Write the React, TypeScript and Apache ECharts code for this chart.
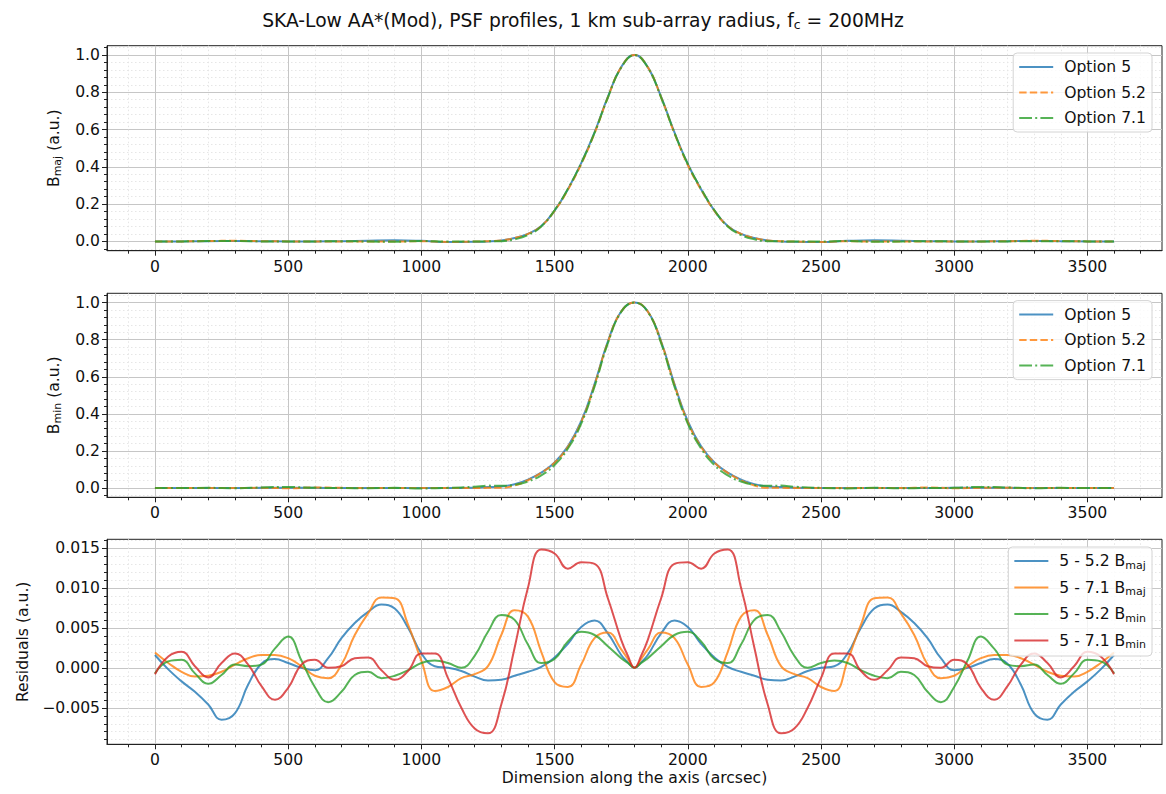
import React, { useEffect, useRef } from 'react';
import * as echarts from 'echarts';

// ---------- axis ticks ----------
const xMajorTicks = [0, 500, 1000, 1500, 2000, 2500, 3000, 3500];
const xMinorTicks = [-100, 100, 200, 300, 400, 600, 700, 800, 900, 1100, 1200, 1300, 1400, 1600, 1700, 1800, 1900, 2100, 2200, 2300, 2400, 2600, 2700, 2800, 2900, 3100, 3200, 3300, 3400, 3600, 3700];
const yProfMajorTicks = [0, 0.2, 0.4, 0.6, 0.8, 1.0];
const yProfMinorTicks = [-0.04, 0.04, 0.08, 0.12, 0.16, 0.24, 0.28, 0.32, 0.36, 0.44, 0.48, 0.52, 0.56, 0.64, 0.68, 0.72, 0.76, 0.84, 0.88, 0.92, 0.96, 1.04];
const yResMajorTicks = [-0.005, 0, 0.005, 0.01, 0.015];
const yResMinorTicks = [-0.009, -0.008, -0.007, -0.006, -0.004, -0.003, -0.002, -0.001, 0.001, 0.002, 0.003, 0.004, 0.006, 0.007, 0.008, 0.009, 0.011, 0.012, 0.013, 0.014, 0.016];

// ---------- profile data ----------
const profX = [0, 100, 200, 300, 400, 500, 600, 700, 800, 900, 1000, 1100, 1200, 1250, 1300, 1350, 1400, 1450, 1500, 1550, 1600, 1650, 1700, 1750, 1800, 1850, 1900, 1950, 2000, 2050, 2100, 2150, 2200, 2250, 2300, 2350, 2400, 2500, 2600, 2700, 2800, 2900, 3000, 3100, 3200, 3300, 3400, 3500, 3600];

const bmajOpt5 = [0, 0, 0.001, 0.002, 0.001, 0, 0, 0.001, 0.004, 0.006, 0.003, -0.003, -0.002,
  0.0, 0.005, 0.018, 0.04, 0.082, 0.165, 0.28, 0.42, 0.585, 0.775, 0.935, 1.0, 0.935, 0.775, 0.585, 0.415, 0.28, 0.165, 0.082, 0.04, 0.018, 0.005, 0.0,
  -0.002, -0.003, 0.003, 0.006, 0.004, 0.001, 0, 0, 0.001, 0.002, 0.001, 0, 0];
const bmajOpt52 = [0, 0, 0.002, 0.003, 0.001, 0, 0, 0.0, 0.0, -0.001, 0.001, -0.003, -0.001,
  0.001, 0.005, 0.018, 0.04, 0.082, 0.164, 0.277, 0.415, 0.58, 0.773, 0.934, 1.0, 0.934, 0.773, 0.58, 0.41, 0.277, 0.164, 0.082, 0.04, 0.018, 0.005, 0.001,
  -0.001, -0.003, 0.001, -0.001, 0.0, 0.0, 0, 0, 0.001, 0.003, 0.002, 0, 0];
const bmajOpt71 = [0, 0, 0.002, 0.002, 0.0, 0, 0, 0.001, -0.001, -0.002, 0.002, -0.001, -0.001,
  0.0, 0.001, 0.011, 0.034, 0.08, 0.167, 0.282, 0.42, 0.582, 0.772, 0.933, 1.0, 0.933, 0.772, 0.582, 0.415, 0.282, 0.167, 0.08, 0.034, 0.011, 0.001, 0.0,
  -0.001, -0.001, 0.002, -0.002, -0.001, 0.001, 0, 0, 0.0, 0.001, 0.001, 0, 0];

const bminOpt5 = [0, 0, 0, 0, 0.001, 0.002, 0.001, 0, 0, 0, 0, 0, 0.002,
  0.005, 0.008, 0.02, 0.045, 0.083, 0.138, 0.225, 0.36, 0.56, 0.79, 0.952, 1.0, 0.952, 0.79, 0.56, 0.36, 0.225, 0.138, 0.083, 0.045, 0.02, 0.008, 0.005,
  0.002, 0, 0, 0, 0, 0, 0.001, 0.002, 0.001, 0, 0, 0, 0];
const bminOpt52 = [0, 0, 0, 0, 0.001, -0.001, 0.003, 0.001, 0, 0, 0, 0, 0.0,
  0.001, 0.001, 0.014, 0.042, 0.082, 0.137, 0.222, 0.356, 0.556, 0.787, 0.951, 1.0, 0.951, 0.787, 0.556, 0.356, 0.222, 0.137, 0.082, 0.042, 0.014, 0.001, 0.001,
  0.0, 0, 0, 0, 0, 0.003, -0.001, 0.001, 0.001, 0, 0, 0, 0];
const bminOpt71 = [0, 0, 0.001, -0.001, 0.003, 0.006, 0.001, 0, -0.001, 0.001, -0.002, 0.001, 0.007,
  0.013, 0.012, 0.017, 0.035, 0.068, 0.124, 0.213, 0.347, 0.547, 0.781, 0.95, 1.0, 0.95, 0.781, 0.547, 0.347, 0.213, 0.124, 0.068, 0.035, 0.017, 0.012, 0.013,
  0.007, 0.001, -0.002, 0.001, -0.001, 0, 0.001, 0.006, 0.003, -0.001, 0.001, 0, 0];

// ---------- residual data ----------
const resX = [0, 50, 100, 150, 200, 250, 300, 350, 400, 450, 500, 550, 600, 650, 700, 750, 800, 850, 900, 950, 1000, 1050, 1100, 1150, 1200, 1250, 1300, 1350, 1400, 1450, 1500, 1550, 1600, 1650, 1700, 1750,
  1775, 1800, 1825,
  1850, 1900, 1950, 2000, 2050, 2100, 2150, 2200, 2250, 2300, 2350, 2400, 2450, 2500, 2550, 2600, 2650, 2700, 2750, 2800, 2850, 2900, 2950, 3000, 3050, 3100, 3150, 3200, 3250, 3300, 3350, 3400, 3450, 3500, 3550, 3600];

const res5m52Maj = [0.0016, -0.0002, -0.0017, -0.003, -0.0046, -0.0065, -0.0057, -0.0021, 0.0005, 0.0011, 0.0006, 0.0, -0.0003, 0.0012, 0.0037, 0.0056, 0.007, 0.0079, 0.0074, 0.005, 0.0018, 0.0002, 0.0, -0.0004, -0.0011, -0.0016, -0.0015, -0.001, -0.0005, 0.0001, 0.0013, 0.003, 0.0051, 0.0059, 0.0043, 0.0016,
  0.0007, 0, 0.0007,
  0.0016, 0.0043, 0.0059, 0.0051, 0.003, 0.0013, 0.0001, -0.0005, -0.001, -0.0015, -0.0016, -0.0011, -0.0004, 0.0, 0.0002, 0.0018, 0.005, 0.0074, 0.0079, 0.007, 0.0056, 0.0037, 0.0012, -0.0003, 0.0, 0.0006, 0.0011, 0.0005, -0.0021, -0.0057, -0.0065, -0.0046, -0.003, -0.0017, -0.0002, 0.0016];

const res5m71Maj = [0.0019, 0.0006, -0.0005, -0.0011, -0.001, -0.0005, 0.0004, 0.0012, 0.0016, 0.0016, 0.0012, 0.0002, -0.001, -0.0013, 0.0004, 0.0041, 0.0068, 0.0088, 0.0087, 0.0054, 0.0009, -0.0029, -0.0024, -0.0013, -0.0008, 0.0002, 0.0041, 0.0072, 0.0064, 0.002, -0.0018, -0.0024, 0.0004, 0.0037, 0.0044, 0.0023,
  0.0011, 0, 0.0011,
  0.0023, 0.0044, 0.0037, 0.0004, -0.0024, -0.0018, 0.002, 0.0064, 0.0072, 0.0041, 0.0002, -0.0008, -0.0013, -0.0024, -0.0029, 0.0009, 0.0054, 0.0087, 0.0088, 0.0068, 0.0041, 0.0004, -0.0013, -0.001, 0.0002, 0.0012, 0.0016, 0.0016, 0.0012, 0.0004, -0.0005, -0.001, -0.0011, -0.0005, 0.0006, 0.0019];

const res5m52Min = [-0.0007, 0.0008, 0.001, -0.0007, -0.002, -0.0009, 0.0004, 0.0002, 0.0004, 0.0024, 0.0039, 0.0009, -0.0024, -0.0043, -0.003, -0.0009, -0.0005, -0.0013, -0.001, -0.0003, 0.0006, 0.0009, 0.0006, 0.0, 0.0015, 0.0045, 0.0066, 0.006, 0.0029, 0.0006, 0.0011, 0.0033, 0.0045, 0.0041, 0.0027, 0.0012,
  0.0006, 0, 0.0006,
  0.0012, 0.0027, 0.0041, 0.0045, 0.0033, 0.0011, 0.0006, 0.0029, 0.006, 0.0066, 0.0045, 0.0015, 0.0, 0.0006, 0.0009, 0.0006, -0.0003, -0.001, -0.0013, -0.0005, -0.0009, -0.003, -0.0043, -0.0024, 0.0009, 0.0039, 0.0024, 0.0004, 0.0002, 0.0004, -0.0009, -0.002, -0.0007, 0.001, 0.0008, -0.0007];

const res5m71Min = [-0.0008, 0.0014, 0.002, 0.0002, -0.0012, 0.0006, 0.0018, 0.0004, -0.0023, -0.004, -0.0025, 0.0004, 0.001, 0.0, 0.0002, 0.0012, 0.0013, -0.0003, -0.0015, -0.0004, 0.0018, 0.0018, -0.0013, -0.005, -0.0076, -0.0082, -0.0046, 0.0025, 0.01, 0.0148, 0.0143, 0.0124, 0.0132, 0.013, 0.0087, 0.0035,
  0.0015, 0, 0.0015,
  0.0035, 0.0087, 0.013, 0.0132, 0.0124, 0.0143, 0.0148, 0.01, 0.0025, -0.0046, -0.0082, -0.0076, -0.005, -0.0013, 0.0018, 0.0018, -0.0004, -0.0015, -0.0003, 0.0013, 0.0012, 0.0002, 0.0, 0.001, 0.0004, -0.0025, -0.004, -0.0023, 0.0004, 0.0018, 0.0006, -0.0012, 0.0002, 0.002, 0.0014, -0.0008];

const profileNames = ['Option 5', 'Option 5.2', 'Option 7.1'];
const residualNames = ['5 - 5.2 B_maj', '5 - 7.1 B_maj', '5 - 5.2 B_min', '5 - 7.1 B_min'];

// ---------- styling ----------
const FONT = 'DejaVu Sans';
const FS = 15.6;
const BLUE = 'rgba(31,119,180,0.8)';
const ORANGE = 'rgba(255,127,14,0.8)';
const GREEN = 'rgba(44,160,44,0.8)';
const RED = 'rgba(214,39,40,0.8)';
const SPINE = '#222';
const TXT = '#111';
const LW = 2;
const DASHED = [7.4, 3.2];
const DASHDOT = [12.8, 3.2, 2, 3.2];

const X_MIN = -180;
const X_MAX = 3780;

const pairs = (xs: number[], ys: number[]) => xs.map((x, i) => [x, ys[i]]);

const subRich = {
  t: { fontSize: FS, fontFamily: FONT, color: TXT, lineHeight: 19 },
  s: { fontSize: 11, fontFamily: FONT, color: TXT, lineHeight: 10, verticalAlign: 'bottom' },
};

function legendFormatter(name: string) {
  const parts = name.split('_');
  return parts.length > 1 ? `{t|${parts[0]}}{s|${parts[1]}}` : `{t|${parts[0]}}`;
}

function xAxesFor(g: number, withName: boolean) {
  const main: any = {
    type: 'value', gridIndex: g, min: X_MIN, max: X_MAX, position: 'bottom',
    axisLine: { show: true, onZero: false, lineStyle: { color: SPINE, width: 1 } },
    axisTick: { show: true, length: 5, customValues: xMajorTicks, lineStyle: { color: SPINE } },
    axisLabel: { show: true, customValues: xMajorTicks, margin: 8, fontSize: FS, fontFamily: FONT, color: TXT, formatter: (v: number) => String(v) },
    splitLine: { show: true, lineStyle: { color: '#c6c6c6', width: 1 } },
  };
  if (withName) {
    main.name = 'Dimension along the axis (arcsec)';
    main.nameLocation = 'middle';
    main.nameGap = 26;
    main.nameTextStyle = { fontSize: FS, fontFamily: FONT, color: TXT };
  }
  const minor = {
    type: 'value', gridIndex: g, min: X_MIN, max: X_MAX, position: 'bottom', offset: 0,
    axisLine: { show: false, onZero: false },
    axisTick: { show: true, length: 3, customValues: xMinorTicks, lineStyle: { color: SPINE } },
    axisLabel: { show: false },
    splitLine: { show: true, lineStyle: { color: '#e6e6e6', width: 1, type: [1.5, 2.5] } },
  };
  return [main, minor];
}

function yAxesFor(g: number, min: number, max: number, major: number[], minor: number[], digits: number, name: string, nameGap: number) {
  const fmt = (v: number) => {
    const s = Math.abs(v).toFixed(digits);
    return v < -1e-12 ? '\u2212' + s : s;
  };
  const main = {
    type: 'value', gridIndex: g, min, max, position: 'left',
    axisLine: { show: true, onZero: false, lineStyle: { color: SPINE, width: 1 } },
    axisTick: { show: true, length: 5, customValues: major, lineStyle: { color: SPINE } },
    axisLabel: { show: true, customValues: major, margin: 7, fontSize: FS, fontFamily: FONT, color: TXT, formatter: fmt },
    splitLine: { show: true, lineStyle: { color: '#c6c6c6', width: 1 } },
    name, nameLocation: 'middle', nameGap, nameRotate: 90,
    nameTextStyle: { rich: subRich },
  };
  const minorAx = {
    type: 'value', gridIndex: g, min, max, position: 'left', offset: 0,
    axisLine: { show: false, onZero: false },
    axisTick: { show: true, length: 3, customValues: minor, lineStyle: { color: SPINE } },
    axisLabel: { show: false },
    splitLine: { show: true, lineStyle: { color: '#e6e6e6', width: 1, type: [1.5, 2.5] } },
  };
  return [main, minorAx];
}

function lineSeries(name: string, xi: number, xs: number[], ys: number[], color: string, type: any) {
  return {
    type: 'line', name, xAxisIndex: xi, yAxisIndex: xi,
    data: pairs(xs, ys), symbol: 'none', showSymbol: false,
    smooth: 0.45, smoothConstraint: false,
    color, lineStyle: { color, width: LW, type },
    emphasis: { disabled: true },
  };
}

const legendBase = {
  orient: 'vertical', right: 14, itemWidth: 34, itemHeight: 12, itemGap: 9.5,
  padding: [6, 6, 6, 5], borderColor: '#d4d4d4', borderWidth: 1, borderRadius: 4,
  backgroundColor: 'rgba(255,255,255,0.8)',
  itemStyle: { opacity: 0, color: 'transparent', borderWidth: 0 },
  textStyle: { fontSize: FS, fontFamily: FONT, color: TXT, padding: [0, 0, 0, 6], rich: subRich },
  formatter: legendFormatter,
};

export default function App() {
  const ref = useRef<HTMLDivElement>(null);
  useEffect(() => {
    if (!ref.current) return;
    const chart = echarts.init(ref.current, null, { renderer: 'svg' });
    const option: any = {
      animation: false,
      backgroundColor: '#ffffff',
      title: {
        text: '{t|SKA-Low AA*(Mod), PSF profiles, 1 km sub-array radius, f}{s|c}{t| = 200MHz}',
        left: 'center', top: 4,
        textStyle: {
          fontWeight: 'normal',
          rich: {
            t: { fontSize: 18.7, fontFamily: FONT, fontWeight: 'normal', color: TXT, lineHeight: 22 },
            s: { fontSize: 12.5, fontFamily: FONT, fontWeight: 'normal', color: TXT, lineHeight: 11, verticalAlign: 'bottom' },
          },
        },
      },
      grid: [
        { left: 107, top: 45.7, width: 1055, height: 205, show: true, borderColor: SPINE, borderWidth: 1, backgroundColor: 'transparent', containLabel: false },
        { left: 107, top: 293.3, width: 1055, height: 204, show: true, borderColor: SPINE, borderWidth: 1, backgroundColor: 'transparent', containLabel: false },
        { left: 107, top: 539.3, width: 1055, height: 205, show: true, borderColor: SPINE, borderWidth: 1, backgroundColor: 'transparent', containLabel: false },
      ],
      xAxis: [...xAxesFor(0, false), ...xAxesFor(1, false), ...xAxesFor(2, true)],
      yAxis: [
        ...yAxesFor(0, -0.05, 1.05, yProfMajorTicks, yProfMinorTicks, 1, '{t|B}{s|maj}{t| (a.u.)}', 44),
        ...yAxesFor(1, -0.05, 1.05, yProfMajorTicks, yProfMinorTicks, 1, '{t|B}{s|min}{t| (a.u.)}', 44),
        ...yAxesFor(2, -0.00957, 0.01607, yResMajorTicks, yResMinorTicks, 3, '{t|Residuals (a.u.)}', 71),
      ],
      legend: [
        { ...legendBase, top: 53, data: profileNames },
        { ...legendBase, top: 300.6, data: profileNames },
        { ...legendBase, top: 547, itemGap: 9, data: residualNames },
      ],
      series: [
        lineSeries(profileNames[0], 0, profX, bmajOpt5, BLUE, 'solid'),
        lineSeries(profileNames[1], 0, profX, bmajOpt52, ORANGE, DASHED),
        lineSeries(profileNames[2], 0, profX, bmajOpt71, GREEN, DASHDOT),
        lineSeries(profileNames[0], 2, profX, bminOpt5, BLUE, 'solid'),
        lineSeries(profileNames[1], 2, profX, bminOpt52, ORANGE, DASHED),
        lineSeries(profileNames[2], 2, profX, bminOpt71, GREEN, DASHDOT),
        lineSeries(residualNames[0], 4, resX, res5m52Maj, BLUE, 'solid'),
        lineSeries(residualNames[1], 4, resX, res5m71Maj, ORANGE, 'solid'),
        lineSeries(residualNames[2], 4, resX, res5m52Min, GREEN, 'solid'),
        lineSeries(residualNames[3], 4, resX, res5m71Min, RED, 'solid'),
      ],
    };
    chart.setOption(option);
    return () => chart.dispose();
  }, []);
  return <div ref={ref} style={{ position: 'absolute', left: 0, top: 0, width: 1166, height: 794 }} />;
}
